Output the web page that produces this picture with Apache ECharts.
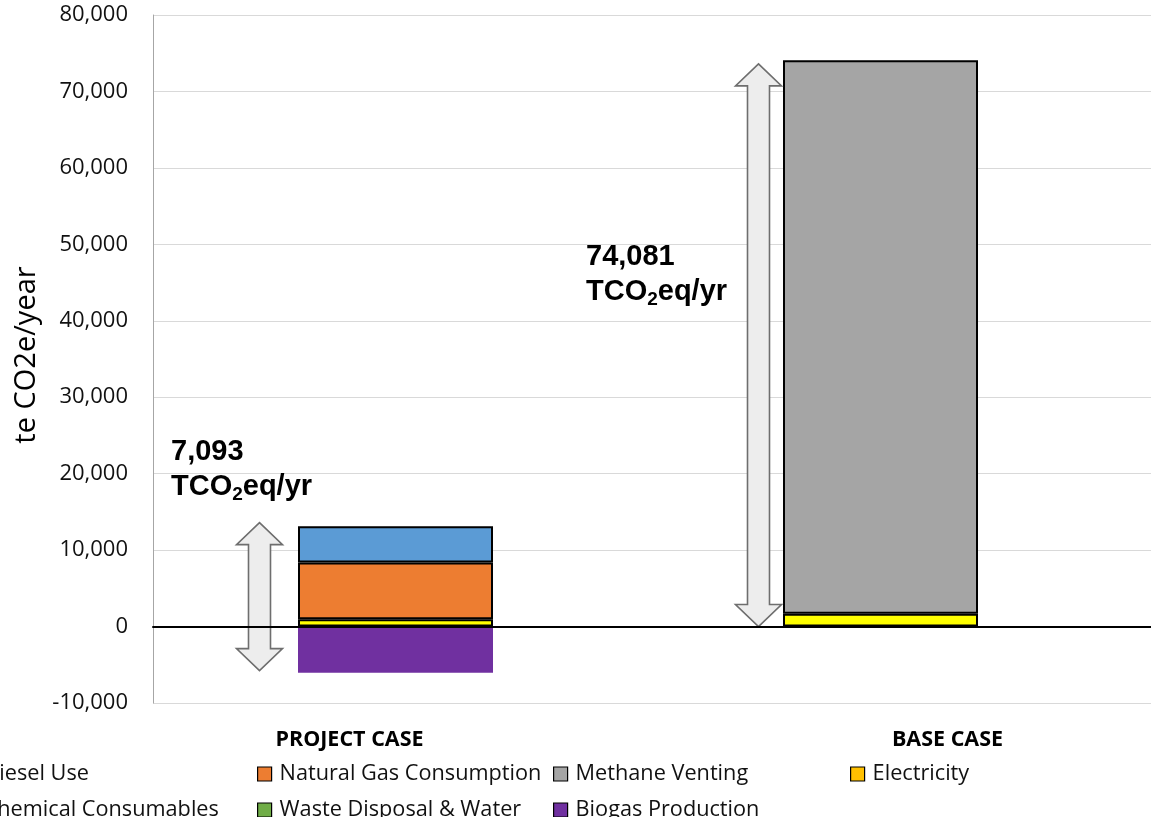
<!DOCTYPE html>
<html>
<head>
<meta charset="utf-8">
<title>Annual emissions: project case vs base case</title>
<script src="https://cdn.jsdelivr.net/npm/echarts@6/dist/echarts.min.js"></script>
<style>
  html, body { margin: 0; padding: 0; background: #ffffff; }
  #chart { width: 1151px; height: 817px; }
</style>
</head>
<body>
<div id="chart"></div>
<script>
// Categories and emission components (te CO2e/year)
const categories = ['PROJECT CASE', 'BASE CASE'];
const dieselUse = [4750, 0];
const naturalGasConsumption = [7400, 0];
const methaneVenting = [0, 72421];
const electricity = [970, 1660];
const chemicalConsumables = [0, 0];
const wasteDisposalWater = [0, 0];
const biogasProduction = [-6027, 0];

// Extent of the double-headed arrows next to each bar
const arrowTop = [13600, 73600];
const arrowBottom = [-5770, 0];

// Value axis range
const yMin = -10000;
const yMax = 80000;
const yStep = 10000;

const sumAt = (i) => [dieselUse, naturalGasConsumption, methaneVenting, electricity,
  chemicalConsumables, wasteDisposalWater, biogasProduction].reduce((s, a) => s + a[i], 0);
const projectNet = sumAt(0);
const baseTotal = sumAt(1);
const fmt = (v) => v.toLocaleString('en-US');

const chart = echarts.init(document.getElementById('chart'), null, { renderer: 'canvas' });

const CAL = '"Open Sans", "Noto Sans", sans-serif';
const BORDER = { borderColor: '#000000', borderWidth: 2 };

const asBars = (arr) => arr.map((v) => (v === 0 ? '-' : v));

function barSeries(name, values, color, extra) {
  return Object.assign({
    name: name,
    type: 'bar',
    stack: 'total',
    xAxisIndex: 1,
    yAxisIndex: 1,
    barWidth: 195,
    itemStyle: Object.assign({ color: color }, BORDER),
    data: asBars(values)
  }, extra || {});
}

// Arrow shift (px) to the left of each bar centre
const arrowShift = [-136, -122];

function renderArrow(params, api) {
  const idx = params.dataIndex;
  const cx = api.coord([api.value(0), 0])[0] + arrowShift[idx];
  const yT = api.coord([api.value(0), api.value(1)])[1];
  const yB = api.coord([api.value(0), api.value(2)])[1];
  const hw = 23, sw = 11, hl = 22;
  return {
    type: 'polygon',
    shape: {
      points: [
        [cx, yT], [cx + hw, yT + hl], [cx + sw, yT + hl], [cx + sw, yB - hl],
        [cx + hw, yB - hl], [cx, yB], [cx - hw, yB - hl], [cx - sw, yB - hl],
        [cx - sw, yT + hl], [cx - hw, yT + hl]
      ]
    },
    style: { fill: '#EDEDED', stroke: '#6E6E6E', lineWidth: 1.6 },
    z2: 1
  };
}

const legendCommon = {
  orient: 'vertical',
  icon: 'rect',
  itemWidth: 14,
  itemHeight: 14,
  itemGap: 14,
  width: 300,
  height: 200,
  padding: 0,
  itemStyle: { borderColor: '#000000', borderWidth: 1.2 },
  textStyle: { fontFamily: CAL, fontSize: 21.7, color: '#111111', lineHeight: 20, padding: [0, 0, 0, 3] },
  top: 763,
  selectedMode: false
};

const labelRich = {
  n: { fontFamily: '"Liberation Sans", Arial, sans-serif', fontWeight: 'bold', fontSize: 29, lineHeight: 35, color: '#000000' },
  s: { fontFamily: '"Liberation Sans", Arial, sans-serif', fontWeight: 'bold', fontSize: 19, lineHeight: 35, color: '#000000', padding: [16, 0, 0, 0] }
};

const option = {
  animation: false,
  backgroundColor: '#ffffff',
  grid: [
    { left: 153, right: 0, top: 15, bottom: 114, outerBoundsMode: 'none' },
    { left: 153, right: 28, top: 15, bottom: 114, outerBoundsMode: 'none' }
  ],
  xAxis: [
    {
      type: 'category', gridIndex: 0, data: categories,
      axisLine: { onZero: true, lineStyle: { color: '#000000', width: 2 } },
      axisTick: { show: false }, axisLabel: { show: false }, z: 5
    },
    {
      type: 'category', gridIndex: 1, data: categories,
      axisLine: { show: false }, axisTick: { show: false },
      axisLabel: {
        margin: 26,
        formatter: (v) => (v === categories[0] ? '{p|' + v + '}' : '{b|' + v + '}'),
        rich: {
          p: { fontFamily: CAL, fontWeight: 'bold', fontSize: 21.5, color: '#000000', padding: [0, 92, 0, 0] },
          b: { fontFamily: CAL, fontWeight: 'bold', fontSize: 21.5, color: '#000000', padding: [0, 0, 0, 134] }
        }
      }
    }
  ],
  yAxis: [
    {
      type: 'value', gridIndex: 0, min: yMin, max: yMax, interval: yStep,
      name: 'te CO2e/year', nameLocation: 'middle', nameRotate: 90, nameGap: 108,
      nameTextStyle: { fontFamily: CAL, fontSize: 29, color: '#000000', padding: [0, 0, 0, 8] },
      axisLine: { show: true, onZero: false, lineStyle: { color: '#A6A6A6', width: 1 } },
      axisTick: { show: false },
      axisLabel: { margin: 25, fontFamily: CAL, fontSize: 22, color: '#111111', formatter: (v) => fmt(v) },
      splitLine: { lineStyle: { color: '#D9D9D9', width: 1 } }
    },
    {
      type: 'value', gridIndex: 1, min: yMin, max: yMax, interval: yStep,
      show: false, splitLine: { show: false }
    }
  ],
  legend: [
    Object.assign({}, legendCommon, { left: -39, data: ['Diesel Use', 'Chemical Consumables'] }),
    Object.assign({}, legendCommon, { left: 257, data: ['Natural Gas Consumption', 'Waste Disposal & Water'] }),
    Object.assign({}, legendCommon, { left: 553, data: ['Methane Venting', 'Biogas Production'] }),
    Object.assign({}, legendCommon, { left: 850, data: ['Electricity'] })
  ],
  series: [
    barSeries('Electricity', electricity, '#FFC000', {
      data: asBars(electricity).map((v) => (v === '-' ? v : { value: v, itemStyle: { color: '#FFFF00' } }))
    }),
    barSeries('Natural Gas Consumption', naturalGasConsumption, '#ED7D31'),
    barSeries('Diesel Use', dieselUse, '#5B9BD5'),
    barSeries('Methane Venting', methaneVenting, '#A5A5A5'),
    barSeries('Chemical Consumables', chemicalConsumables, '#4472C4'),
    barSeries('Waste Disposal & Water', wasteDisposalWater, '#70AD47'),
    barSeries('Biogas Production', biogasProduction, '#7030A0', {
      itemStyle: { color: '#7030A0', borderWidth: 0 }
    }),
    {
      type: 'custom',
      name: 'arrows',
      xAxisIndex: 1,
      yAxisIndex: 1,
      renderItem: renderArrow,
      data: categories.map((c, i) => [i, arrowTop[i], arrowBottom[i]]),
      z: 3,
      silent: true
    }
  ],
  graphic: [
    {
      type: 'text', left: 171, top: 437, z: 10,
      style: { text: '{n|' + fmt(projectNet) + '}\n{n|TCO}{s|2}{n|eq/yr}', rich: labelRich }
    },
    {
      type: 'text', left: 586, top: 242, z: 10,
      style: { text: '{n|' + fmt(baseTotal) + '}\n{n|TCO}{s|2}{n|eq/yr}', rich: labelRich }
    }
  ]
};

chart.setOption(option);
</script>
</body>
</html>
